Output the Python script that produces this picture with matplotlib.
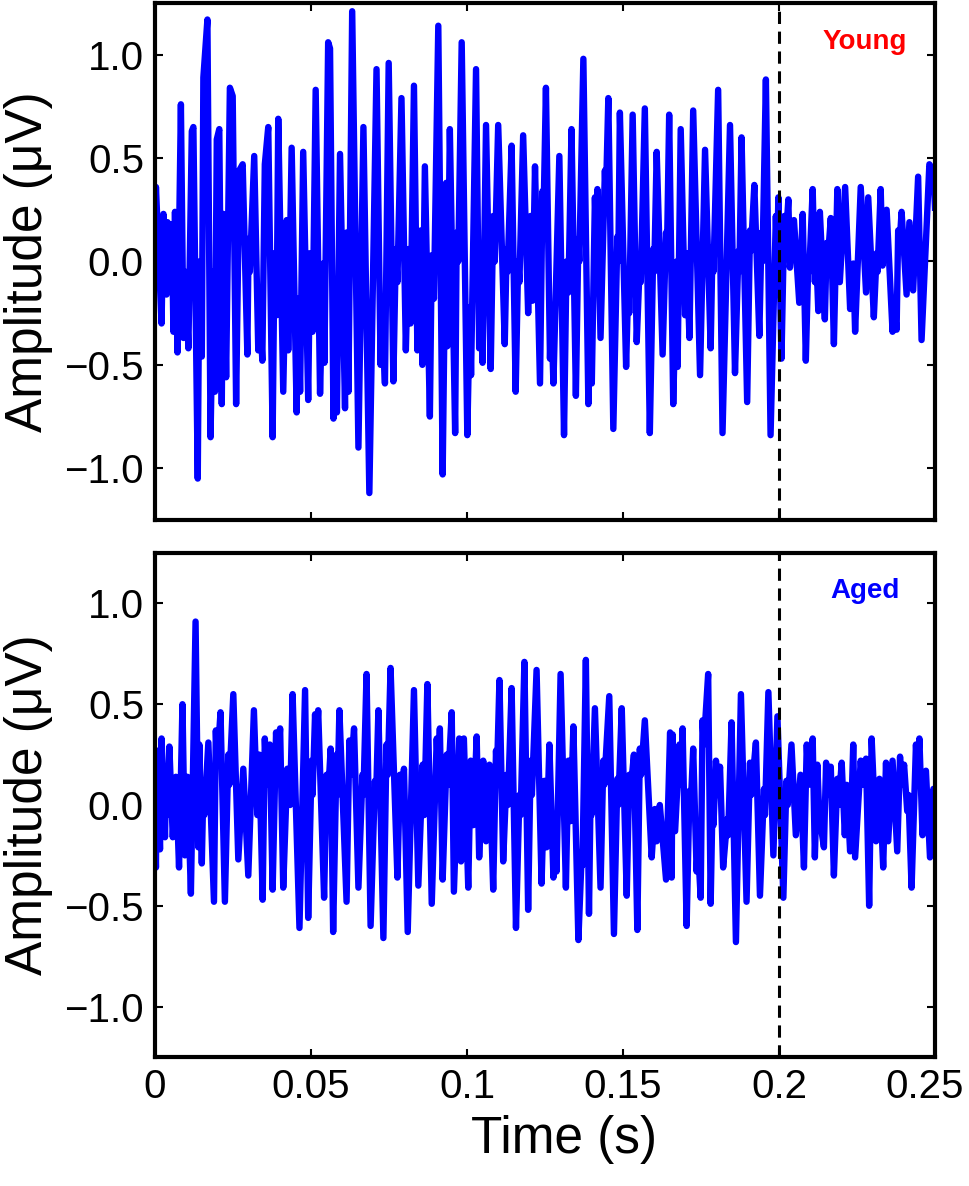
import matplotlib
matplotlib.use('Agg')
import matplotlib.pyplot as plt
import matplotlib.transforms as mtransforms
import numpy as np

plt.rcParams['font.family'] = ['Liberation Sans', 'DejaVu Sans']

# peaks / troughs (time in ms, amplitude in uV)
young_t = [0.0, 0.3, 2.1, 2.7, 3.7, 4.0, 5.0, 5.4, 5.9, 6.4, 7.2, 8.3, 9.1, 9.8, 10.7, 11.8, 12.3, 13.7, 14.2, 15.0,
           15.5, 16.8, 17.8, 18.7, 19.2, 19.8, 20.6, 21.4, 21.9, 22.8, 24.0, 24.9, 26.0, 27.0, 28.1, 29.6, 30.0, 30.4,
           31.8, 33.1, 33.7, 34.4, 35.2, 36.3, 37.7, 38.3, 39.0, 39.5, 41.1, 42.2, 42.7, 43.8, 45.4, 45.9, 46.5, 47.5,
           49.1, 49.7, 50.5, 51.5, 52.9, 53.9, 54.3, 55.5, 56.1, 57.2, 58.0, 58.3, 59.3, 60.9, 61.4, 62.0, 63.2, 65.2,
           66.8, 68.7, 71.0, 72.3, 72.6, 73.7, 74.9, 76.4, 77.2, 77.7, 79.0, 80.4, 81.2, 81.9, 83.0, 84.1, 85.2, 85.7,
           86.5, 88.1, 88.7, 89.4, 90.8, 92.2, 93.3, 93.7, 94.5, 96.2, 96.7, 97.2, 98.3, 100.1, 100.9, 101.3, 102.9,
           103.9, 104.5, 105.0, 106.1, 107.6, 108.4, 108.9, 110.0, 112.1, 112.7, 113.0, 114.3, 115.6, 116.4, 116.8,
           118.0, 119.6, 120.4, 121.0, 121.8, 123.4, 124.2, 124.5, 125.3, 126.6, 127.0, 127.7, 129.6, 131.1, 131.9,
           132.5, 133.5, 134.9, 135.7, 136.0, 137.3, 138.9, 139.4, 140.0, 141.0, 141.4, 141.8, 142.8, 144.2, 144.5,
           145.3, 146.9, 148.2, 148.5, 149.0, 151.0, 151.7, 152.0, 153.1, 154.4, 155.4, 155.7, 157.0, 158.6, 159.7,
           160.0, 160.8, 162.7, 163.8, 164.1, 164.8, 166.1, 167.2, 167.5, 168.5, 169.9, 170.4, 171.3, 172.5, 174.7,
           176.3, 178.1, 178.7, 179.0, 180.5, 181.9, 184.3, 185.9, 187.0, 187.3, 188.0, 189.8, 190.7, 191.0, 192.1,
           193.7, 194.4, 194.7, 195.8, 197.3, 199.0, 199.4, 199.8, 200.8, 201.7, 202.0, 203.0, 203.5, 204.8, 206.5,
           207.6, 208.6, 209.4, 209.7, 210.8, 211.5, 211.9, 212.6, 213.1, 214.7, 215.3, 215.6, 216.6, 217.6, 218.7,
           219.5, 221.2, 222.8, 223.8, 224.4, 226.2, 227.9, 228.6, 230.4, 231.3, 231.6, 232.6, 233.2, 234.5, 236.4,
           236.8, 237.7, 238.2, 238.5, 239.3, 240.9, 241.8, 243.0, 244.6, 245.7, 248.2, 249.5, 250.0]
young_v = [0.17, 0.36, -0.30, 0.23, -0.16, 0.19, -0.14, 0.18, -0.34, 0.24, -0.44, 0.76, -0.37, -0.05, -0.42, 0.63,
           0.65, -1.05, 0.00, -0.46, 0.89, 1.17, -0.85, -0.05, -0.63, 0.59, 0.64, -0.69, 0.23, -0.56, 0.84, 0.80,
           -0.69, 0.44, 0.47, -0.45, 0.11, -0.05, 0.51, -0.43, -0.25, -0.48, 0.47, 0.65, -0.85, 0.04, -0.26, 0.69,
           -0.63, 0.20, -0.43, 0.55, -0.73, -0.18, -0.63, 0.53, -0.67, 0.04, -0.34, 0.83, -0.64, -0.01, -0.49, 1.06,
           1.03, -0.76, -0.15, -0.73, 0.52, -0.71, 0.14, -0.63, 1.21, -0.90, 0.65, -1.12, 0.93, -0.50, -0.20, -0.59,
           0.96, -0.58, 0.06, -0.10, 0.79, -0.43, 0.06, -0.30, 0.85, -0.43, 0.15, -0.50, 0.46, -0.75, 0.03, -0.18,
           1.14, -1.03, 0.38, -0.41, 0.64, -0.83, 0.14, 0.00, 1.06, -0.84, -0.22, -0.55, 0.93, -0.42, -0.20, -0.49,
           0.66, -0.52, 0.22, 0.00, 0.66, -0.40, 0.06, -0.05, 0.56, -0.63, 0.00, -0.10, 0.61, -0.25, 0.22, -0.19,
           0.46, -0.59, 0.34, 0.20, 0.84, -0.47, -0.25, -0.59, 0.51, -0.84, 0.00, -0.15, 0.64, -0.65, 0.11, 0.00,
           0.98, -0.69, -0.30, -0.59, 0.31, 0.10, 0.35, -0.37, 0.44, 0.30, 0.79, -0.81, 0.12, 0.00, 0.72, -0.51,
           -0.10, -0.25, 0.71, -0.39, 0.00, -0.10, 0.74, -0.83, 0.06, -0.05, 0.53, -0.45, 0.14, 0.05, 0.71, -0.69,
           0.00, -0.51, 0.64, -0.26, 0.04, -0.37, 0.73, -0.55, 0.54, -0.42, 0.07, -0.05, 0.83, -0.83, 0.66, -0.54,
           0.05, -0.05, 0.60, -0.68, 0.15, 0.05, 0.37, -0.36, 0.14, 0.00, 0.88, -0.84, 0.22, 0.00, 0.31, -0.47,
           0.22, 0.05, 0.30, -0.03, 0.20, -0.20, 0.23, -0.48, 0.00, -0.05, 0.35, -0.10, 0.05, -0.24, 0.24, -0.28,
           0.09, 0.00, 0.21, -0.40, 0.35, -0.10, 0.36, -0.23, -0.01, -0.34, 0.36, -0.15, 0.31, -0.27, 0.04, -0.05,
           0.35, -0.02, 0.25, -0.34, -0.20, -0.33, 0.15, 0.05, 0.24, -0.16, 0.19, -0.14, 0.41, -0.38, 0.47, 0.44,
           0.26]

aged_t = [0.0, 0.3, 0.6, 1.6, 2.1, 3.2, 3.5, 3.9, 4.6, 5.7, 6.7, 7.7, 8.8, 9.6, 10.4, 11.5, 13.0, 13.9, 14.2, 15.0,
          15.5, 15.8, 17.1, 18.9, 19.5, 19.9, 21.0, 22.4, 23.5, 23.8, 25.1, 26.7, 28.3, 29.9, 31.7, 32.8, 33.4, 34.5,
          35.2, 35.8, 36.8, 37.7, 38.8, 39.3, 40.1, 41.1, 42.4, 43.3, 44.1, 46.3, 48.1, 49.1, 50.2, 50.5, 51.3, 51.7,
          52.3, 54.2, 55.0, 55.3, 56.3, 57.1, 58.2, 58.5, 59.1, 61.4, 62.3, 62.7, 63.8, 65.2, 66.5, 66.8, 67.8, 69.1,
          70.5, 70.8, 71.6, 73.2, 74.2, 74.6, 75.5, 77.7, 78.5, 78.9, 79.8, 81.0, 83.0, 84.4, 85.8, 86.3, 87.3, 88.7,
          90.3, 90.8, 91.3, 92.2, 93.5, 93.9, 95.1, 95.8, 97.5, 98.1, 99.0, 100.4, 101.2, 102.0, 103.1, 103.9, 105.2,
          106.1, 107.2, 108.4, 109.3, 109.6, 110.4, 111.6, 112.7, 113.1, 114.3, 115.7, 116.8, 117.2, 118.4, 119.6,
          120.4, 120.8, 122.3, 123.9, 124.8, 125.5, 126.4, 127.7, 128.2, 128.7, 130.0, 131.7, 132.5, 133.2, 134.1,
          135.7, 136.8, 137.0, 138.1, 139.1, 139.6, 139.9, 141.0, 142.8, 143.7, 144.0, 145.6, 147.1, 148.2, 148.5,
          149.6, 151.2, 152.0, 152.3, 153.5, 154.6, 155.4, 155.8, 157.0, 159.2, 160.2, 160.8, 161.8, 163.8, 165.1,
          165.6, 165.9, 166.7, 168.1, 168.6, 169.1, 170.4, 171.3, 171.6, 172.5, 173.6, 174.0, 174.9, 175.5, 175.9,
          177.3, 178.1, 178.7, 179.0, 179.8, 180.4, 181.1, 182.1, 183.4, 183.7, 184.8, 186.2, 187.8, 189.6, 190.7,
          191.1, 192.6, 193.9, 195.2, 195.5, 196.6, 198.2, 199.5, 201.4, 202.4, 202.8, 204.0, 205.4, 206.9, 208.0,
          208.9, 209.5, 210.8, 211.5, 212.3, 212.9, 214.4, 215.1, 215.6, 216.6, 217.6, 218.7, 219.1, 220.1, 221.1,
          221.7, 222.8, 223.8, 224.4, 226.2, 226.8, 227.9, 228.9, 229.7, 231.1, 232.2, 233.4, 234.3, 235.0, 236.4,
          237.9, 238.8, 239.3, 240.1, 241.1, 241.5, 242.5, 243.9, 244.4, 245.0, 246.0, 247.1, 248.4, 249.5, 250.0]
aged_v = [-0.11, -0.31, 0.27, -0.22, 0.33, -0.16, 0.12, -0.05, 0.29, -0.16, 0.14, -0.31, 0.50, -0.25, 0.14, -0.44,
          0.91, -0.21, 0.30, -0.29, 0.09, -0.05, 0.31, -0.48, 0.37, 0.20, 0.46, -0.48, 0.25, 0.10, 0.55, -0.27, 0.18,
          -0.35, 0.47, -0.05, 0.25, -0.47, 0.33, 0.10, 0.30, -0.42, 0.36, 0.20, 0.38, -0.41, 0.18, 0.00, 0.55, -0.61,
          0.57, -0.56, 0.22, 0.05, 0.45, 0.30, 0.47, -0.46, 0.15, 0.00, 0.28, -0.63, 0.25, 0.05, 0.47, -0.48, 0.32,
          0.15, 0.38, -0.41, 0.15, 0.05, 0.65, -0.60, 0.12, 0.00, 0.47, -0.66, 0.30, 0.15, 0.68, -0.36, 0.15, 0.00,
          0.18, -0.63, 0.57, -0.40, 0.20, -0.05, 0.60, -0.49, 0.33, 0.15, 0.38, -0.37, 0.25, 0.10, 0.46, -0.43, 0.33,
          -0.28, 0.33, -0.41, 0.22, -0.10, 0.34, -0.26, 0.22, -0.18, 0.20, -0.42, 0.27, 0.15, 0.62, -0.28, 0.15,
          0.00, 0.58, -0.61, 0.05, -0.05, 0.71, -0.52, 0.22, 0.05, 0.67, -0.39, 0.12, -0.21, 0.30, -0.36, -0.18,
          -0.33, 0.65, -0.41, 0.22, -0.08, 0.39, -0.67, -0.23, -0.30, 0.72, -0.54, 0.04, -0.05, 0.48, -0.41, 0.22,
          0.10, 0.54, -0.64, 0.13, 0.00, 0.48, -0.45, 0.15, 0.05, 0.25, -0.62, 0.28, 0.15, 0.42, -0.26, -0.02, -0.18,
          0.00, -0.37, 0.36, -0.36, 0.35, -0.13, 0.30, 0.10, 0.38, -0.60, 0.07, -0.05, 0.28, -0.33, -0.20, -0.46,
          0.42, 0.30, 0.65, -0.49, 0.02, -0.10, 0.22, 0.05, 0.19, -0.31, -0.07, -0.15, 0.41, -0.68, 0.55, -0.48,
          0.21, 0.05, 0.31, -0.45, 0.08, -0.05, 0.56, -0.25, 0.44, -0.46, 0.12, 0.00, 0.30, -0.15, 0.15, -0.31,
          0.30, 0.10, 0.33, -0.26, 0.20, -0.05, -0.21, 0.21, 0.05, 0.19, -0.35, 0.13, 0.00, 0.21, -0.15, 0.10,
          -0.23, 0.30, -0.26, 0.22, 0.10, 0.23, -0.50, 0.33, -0.18, 0.13, -0.31, 0.21, -0.18, 0.22, -0.23, 0.24,
          0.10, 0.20, -0.03, 0.05, -0.41, 0.30, 0.15, 0.33, -0.15, 0.17, -0.26, 0.08, -0.03]

xticks = [0, 0.05, 0.1, 0.15, 0.2, 0.25]
xtick_labels = ['0', '0.05', '0.1', '0.15', '0.2', '0.25']
yticks = [-1.0, -0.5, 0.0, 0.5, 1.0]
ytick_labels = ['\u22121.0', '\u22120.5', '0.0', '0.5', '1.0']
onset = 0.2

fig = plt.figure(figsize=(9.7, 11.86), dpi=100)
ax1 = fig.add_axes([0.1598, 0.5616, 0.8041, 0.4359])
ax2 = fig.add_axes([0.1598, 0.1088, 0.8041, 0.4249])

panels = [(ax1, young_t, young_v, 'Young', 'red'),
          (ax2, aged_t, aged_v, 'Aged', 'blue')]

for ax, t, v, name, col in panels:
    ax.plot(np.array(t) / 1000.0, v, color='#0000ff', lw=4.6, solid_joinstyle='round')
    ax.axvline(onset, color='black', lw=2.2, linestyle=(0, (4, 2.5)))
    ax.set_xlim(0, 0.25)
    ax.set_ylim(-1.25, 1.25)
    ax.set_xticks(xticks)
    ax.set_yticks(yticks)
    ax.set_yticklabels(ytick_labels)
    ax.tick_params(direction='in', top=True, right=True, length=6, width=1.5, labelsize=29, pad=8)
    for s in ax.spines.values():
        s.set_linewidth(3)
    ax.set_ylabel('Amplitude (\u03bcV)', fontsize=37, labelpad=8)
    ax.text(0.91, 0.925, name, transform=ax.transAxes, color=col, fontsize=20,
            fontweight='bold', ha='center', va='center')

ax1.tick_params(labelbottom=False)
ax2.set_xticklabels(xtick_labels)
ax2.set_xlabel('Time (s)', fontsize=37, labelpad=8)
ax2.xaxis.set_label_coords(0.525, -0.115)

# keep the last tick label inside the figure, as in the original
last = ax2.get_xticklabels()[-1]
last.set_transform(last.get_transform() + mtransforms.ScaledTranslation(-10 / 100, 0, fig.dpi_scale_trans))

fig.savefig('out.png', dpi=100)
